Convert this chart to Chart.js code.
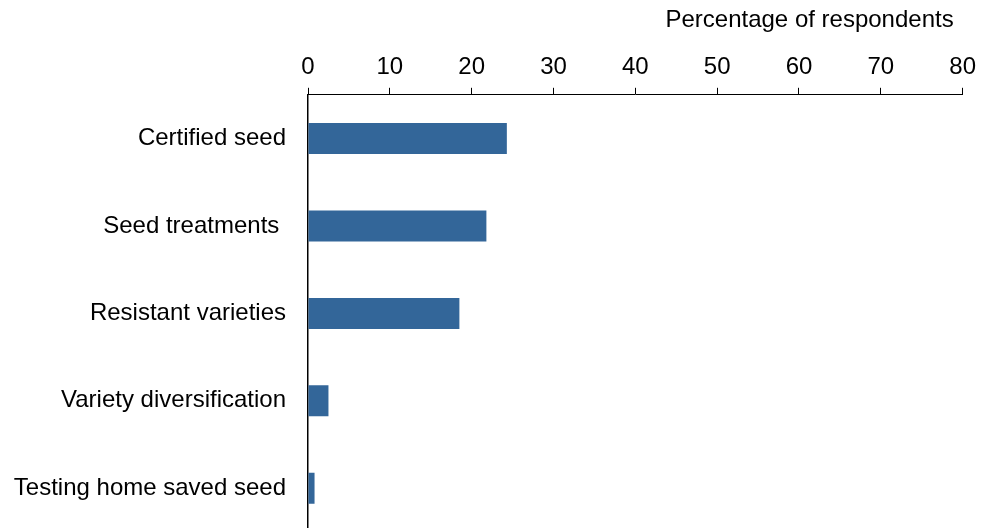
<!DOCTYPE html>
<html>
<head>
<meta charset="utf-8">
<script src="https://cdn.jsdelivr.net/npm/chart.js@4.4.1/dist/chart.umd.min.js"></script>
<style>
  html, body { margin: 0; padding: 0; background: #fff; overflow: hidden; }
  canvas { display: block; }
</style>
</head>
<body>
<canvas id="practiceChart" width="982" height="540"></canvas>
<script>
const categories = ['Certified seed', 'Seed treatments ', 'Resistant varieties', 'Variety diversification', 'Testing home saved seed'];
const percentages = [24.3, 21.8, 18.5, 2.5, 0.8];
const xTicks = [0, 10, 20, 30, 40, 50, 60, 70, 80];
const axisTitle = 'Percentage of respondents';

const FONT = "'Liberation Sans', Arial, sans-serif";

// title drawn above the top axis, right aligned near the axis end
const titlePlugin = {
    id: 'topTitle',
    afterDraw(chart) {
        const ctx = chart.ctx;
        ctx.save();
        ctx.font = '24px ' + FONT;
        ctx.fillStyle = '#000';
        ctx.textAlign = 'right';
        ctx.textBaseline = 'alphabetic';
        ctx.fillText(axisTitle, chart.chartArea.right - 9, 27);
        ctx.restore();
    }
};

const ctx = document.getElementById('practiceChart').getContext('2d');
new Chart(ctx, {
    type: 'bar',
    data: {
        labels: categories,
        datasets: [{
            data: percentages,
            backgroundColor: '#336699',
            borderWidth: 0,
            barPercentage: 0.354,
            categoryPercentage: 1
        }]
    },
    options: {
        indexAxis: 'y',
        responsive: false,
        animation: false,
        layout: { padding: { top: 47, bottom: 8, right: 10, left: 0 } },
        scales: {
            x: {
                position: 'top',
                min: 0,
                max: 80,
                afterBuildTicks: axis => { axis.ticks = xTicks.map(v => ({ value: v })); },
                ticks: {
                    color: '#000',
                    font: { family: FONT, size: 24 },
                    padding: 6,
                    maxRotation: 0
                },
                grid: {
                    drawOnChartArea: false,
                    drawTicks: true,
                    tickLength: 7,
                    tickColor: '#000',
                    tickWidth: 1
                },
                border: { display: true, color: '#000', width: 1 }
            },
            y: {
                afterFit: axis => {
                    axis.width = 308;
                    axis.paddingTop = 0;
                    axis.paddingBottom = 0;
                },
                ticks: {
                    color: '#000',
                    font: { family: FONT, size: 24 },
                    padding: 22
                },
                grid: { display: false, drawTicks: false },
                border: { display: true, color: '#000', width: 1.5 }
            }
        },
        plugins: {
            legend: { display: false },
            tooltip: { enabled: false }
        }
    },
    plugins: [titlePlugin]
});
</script>
</body>
</html>
